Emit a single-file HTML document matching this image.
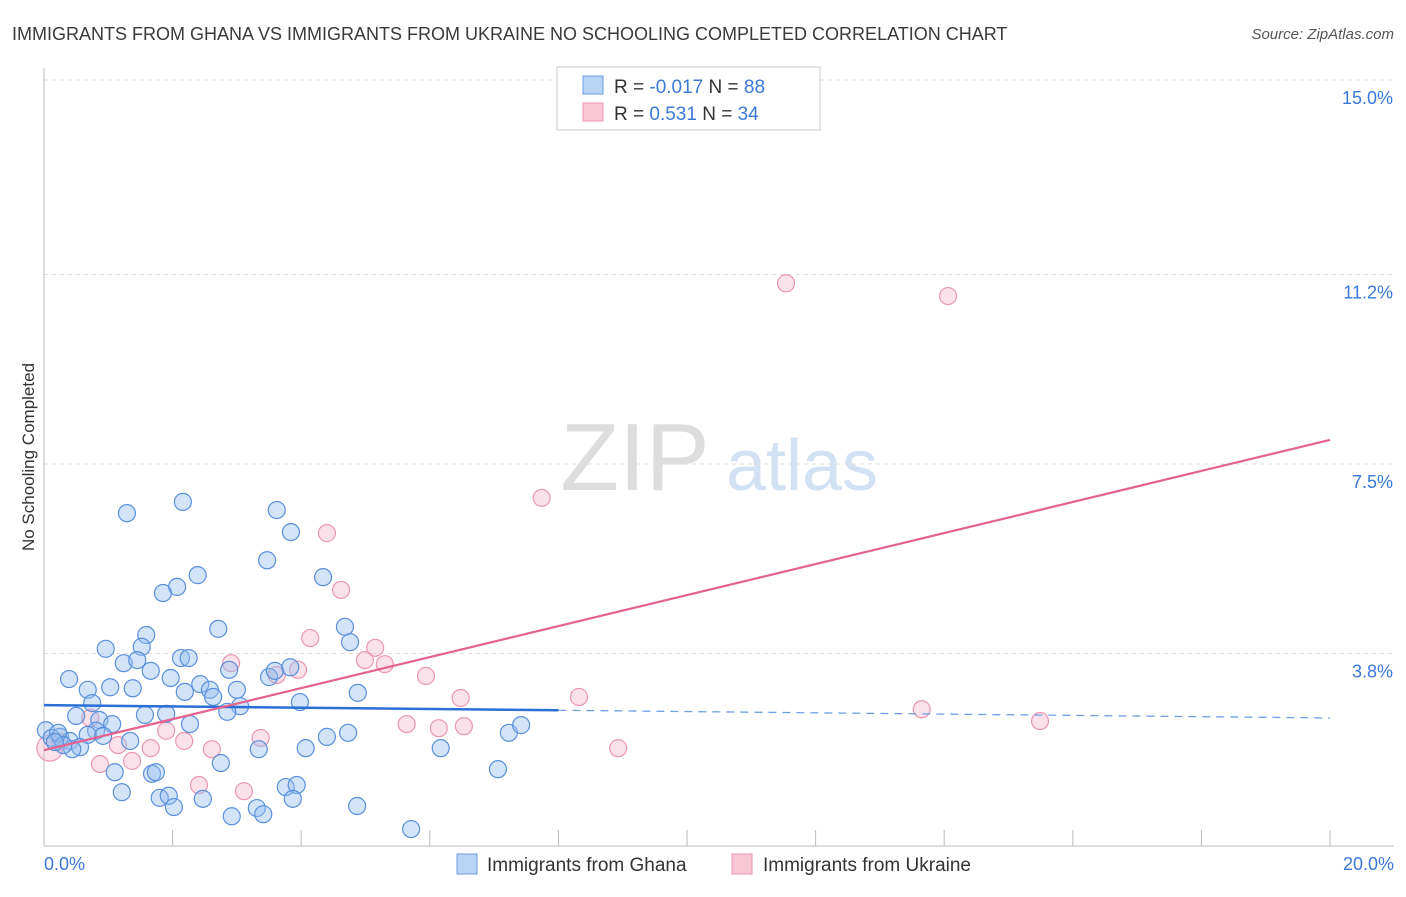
<!DOCTYPE html>
<html><head><meta charset="utf-8"><style>
body{margin:0;background:#fff;font-family:"Liberation Sans",sans-serif;}
svg text{font-family:"Liberation Sans",sans-serif;}
</style></head><body>
<svg id="chart" width="1406" height="892" xmlns="http://www.w3.org/2000/svg">
<text x="12" y="40" font-size="18" fill="#3a3a3a">IMMIGRANTS FROM GHANA VS IMMIGRANTS FROM UKRAINE NO SCHOOLING COMPLETED CORRELATION CHART</text>
<text x="1394" y="39" font-size="15" fill="#555" text-anchor="end" font-style="italic">Source: ZipAtlas.com</text>
<g>
<text x="635" y="490" font-size="96" fill="#ddd" font-family="Liberation Serif,serif" text-anchor="middle">ZIP</text>
<text x="802" y="490" font-size="72" fill="#d3e1f4" text-anchor="middle">atlas</text>
</g>
<g id="grid"></g>
<g id="axes"></g>
<g id="marks"></g>
<text transform="translate(34,457) rotate(-90)" font-size="17" fill="#333" text-anchor="middle">No Schooling Completed</text>
<g>
<rect x="557" y="67" width="263" height="63" fill="#fff" stroke="#ccc"/>
<rect x="583" y="76" width="20" height="18" fill="#b9d3f5" stroke="#6c9be0"/>
<rect x="583" y="103" width="20" height="18" fill="#f9c6d6" stroke="#ec97b2"/>
<text x="614" y="93" font-size="19" fill="#333">R = <tspan fill="#3b78d8">-0.017</tspan>   N = <tspan fill="#3b78d8">88</tspan></text>
<text x="614" y="120" font-size="19" fill="#333">R =  <tspan fill="#3b78d8"> 0.531</tspan>   N = <tspan fill="#3b78d8">34</tspan></text>
</g>
<g>
<rect x="457" y="854" width="20" height="20" fill="#b9d3f5" stroke="#6c9be0"/>
<text x="487" y="871" font-size="19" fill="#333">Immigrants from Ghana</text>
<rect x="732" y="854" width="20" height="20" fill="#f9c6d6" stroke="#ec97b2"/>
<text x="763" y="871" font-size="19" fill="#333">Immigrants from Ukraine</text>
</g>
</svg>
<script>
const ghanaX=[1.29,2.16,3.62,3.84,3.47,4.34,2.39,2.07,1.85,1.59,1.52,2.71,4.68,4.76,0.96,1.24,1.45,2.13,2.25,0.39,0.68,1.03,1.38,1.66,1.97,2.19,2.43,2.58,2.63,3.00,2.88,3.05,2.85,3.50,3.59,3.83,3.98,4.88,0.75,0.50,0.86,1.06,0.81,0.68,0.92,1.57,1.90,2.27,0.03,0.12,0.25,0.40,0.56,0.44,1.34,2.75,3.34,4.07,4.40,4.73,6.17,7.23,7.42,7.06,1.10,1.68,1.74,1.21,1.80,1.94,2.02,2.47,2.92,3.31,3.41,3.76,3.93,3.87,4.87,5.71,0.22,0.30,0.17];
const ghanaY=[6.54,6.76,6.60,6.17,5.62,5.29,5.33,5.10,4.98,4.16,3.93,4.28,4.32,4.02,3.89,3.61,3.67,3.71,3.71,3.30,3.09,3.14,3.12,3.46,3.32,3.05,3.20,3.09,2.95,3.09,3.48,2.77,2.66,3.34,3.46,3.53,2.85,3.03,2.83,2.58,2.50,2.42,2.29,2.21,2.19,2.60,2.62,2.42,2.30,2.15,2.17,2.09,1.97,1.93,2.09,1.66,1.93,1.95,2.17,2.25,1.95,2.25,2.40,1.54,1.48,1.45,1.48,1.09,0.98,1.02,0.80,0.96,0.62,0.78,0.66,1.19,1.23,0.96,0.82,0.37,2.25,2.01,2.07];
const ukraineX=[11.54,14.06,7.74,4.40,4.62,4.14,5.15,4.99,5.30,2.91,3.62,3.95,5.94,6.48,8.32,13.65,15.49,5.64,6.14,6.53,8.93,3.37,2.61,2.18,1.66,1.15,0.87,1.37,1.90,2.41,3.11,0.72,0.25,0.09];
const ukraineY=[11.03,10.78,6.84,6.15,5.04,4.10,3.91,3.67,3.59,3.61,3.38,3.48,3.36,2.93,2.95,2.71,2.48,2.42,2.34,2.38,1.95,2.15,1.93,2.09,1.95,2.01,1.64,1.70,2.29,1.23,1.11,2.54,2.07,1.95];
const yTicks=[3.8,7.5,11.2,15.0];
const yTickLabels=["3.8%","7.5%","11.2%","15.0%"];
const xTickVals=[0,2,4,6,8,10,12,14,16,18,20];
const ghanaTrend=[2.79,2.54];
const ukraineTrend=[1.91,7.97];
const ghanaSolidEnd=8.0;

const NS="http://www.w3.org/2000/svg";
const X=v=>44+v*(1286/20);
const Y=v=>848-v*51.2;
function mk(tag,attrs,parent){const e=document.createElementNS(NS,tag);for(const k in attrs)e.setAttribute(k,attrs[k]);document.getElementById(parent).appendChild(e);return e;}
yTicks.forEach((t,i)=>{
  const l=mk('line',{x1:44,x2:1394,y1:Y(t),y2:Y(t),stroke:'#ddd','stroke-dasharray':'4,4'},'grid');
  
  
  const tx=mk('text',{x:1393,y:Y(t)+24,'font-size':18,fill:'#3b78d8','text-anchor':'end'},'grid');
  tx.textContent=yTickLabels[i];
  
  
});
const ax=mk('line',{x1:44,x2:44,y1:68,y2:846,stroke:'#bbb'},'axes');


const bx=mk('line',{x1:44,x2:1394,y1:846,y2:846,stroke:'#bbb'},'axes');


xTickVals.forEach(v=>{
  const t=mk('line',{x1:X(v),x2:X(v),y1:830,y2:846,stroke:'#bbb'},'axes');
  
  
});
const xl0=mk('text',{x:44,y:870,'font-size':18,fill:'#3b78d8'},'axes');xl0.textContent='0.0%';


const xl1=mk('text',{x:1394,y:870,'font-size':18,fill:'#3b78d8','text-anchor':'end'},'axes');xl1.textContent='20.0%';



ukraineX.forEach((x,i)=>{
  const c=mk('circle',{cx:X(x),cy:Y(ukraineY[i]),r:i===ukraineX.length-1?13:8.5,fill:'rgba(246,180,200,0.4)',stroke:'#eb97b2','stroke-width':1.2},'marks');
  
  
});
ghanaX.forEach((x,i)=>{
  const c=mk('circle',{cx:X(x),cy:Y(ghanaY[i]),r:8.5,fill:'rgba(150,190,238,0.42)',stroke:'#5a8fdc','stroke-width':1.2},'marks');
  
  
});
const gy=x=>ghanaTrend[0]+(ghanaTrend[1]-ghanaTrend[0])*x/20;
const g1=mk('line',{x1:X(0),y1:Y(gy(0)),x2:X(ghanaSolidEnd),y2:Y(gy(ghanaSolidEnd)),stroke:'#2a6fd6','stroke-width':2.5},'marks');


const g2=mk('line',{x1:X(ghanaSolidEnd),y1:Y(gy(ghanaSolidEnd)),x2:X(20),y2:Y(gy(20)),stroke:'#6f9fe3','stroke-width':1.3,'stroke-dasharray':'8,6'},'marks');


const u1=mk('line',{x1:X(0),y1:Y(ukraineTrend[0]),x2:X(20),y2:Y(ukraineTrend[1]),stroke:'#e5628e','stroke-width':2.2},'marks');


</script>
</body></html>
